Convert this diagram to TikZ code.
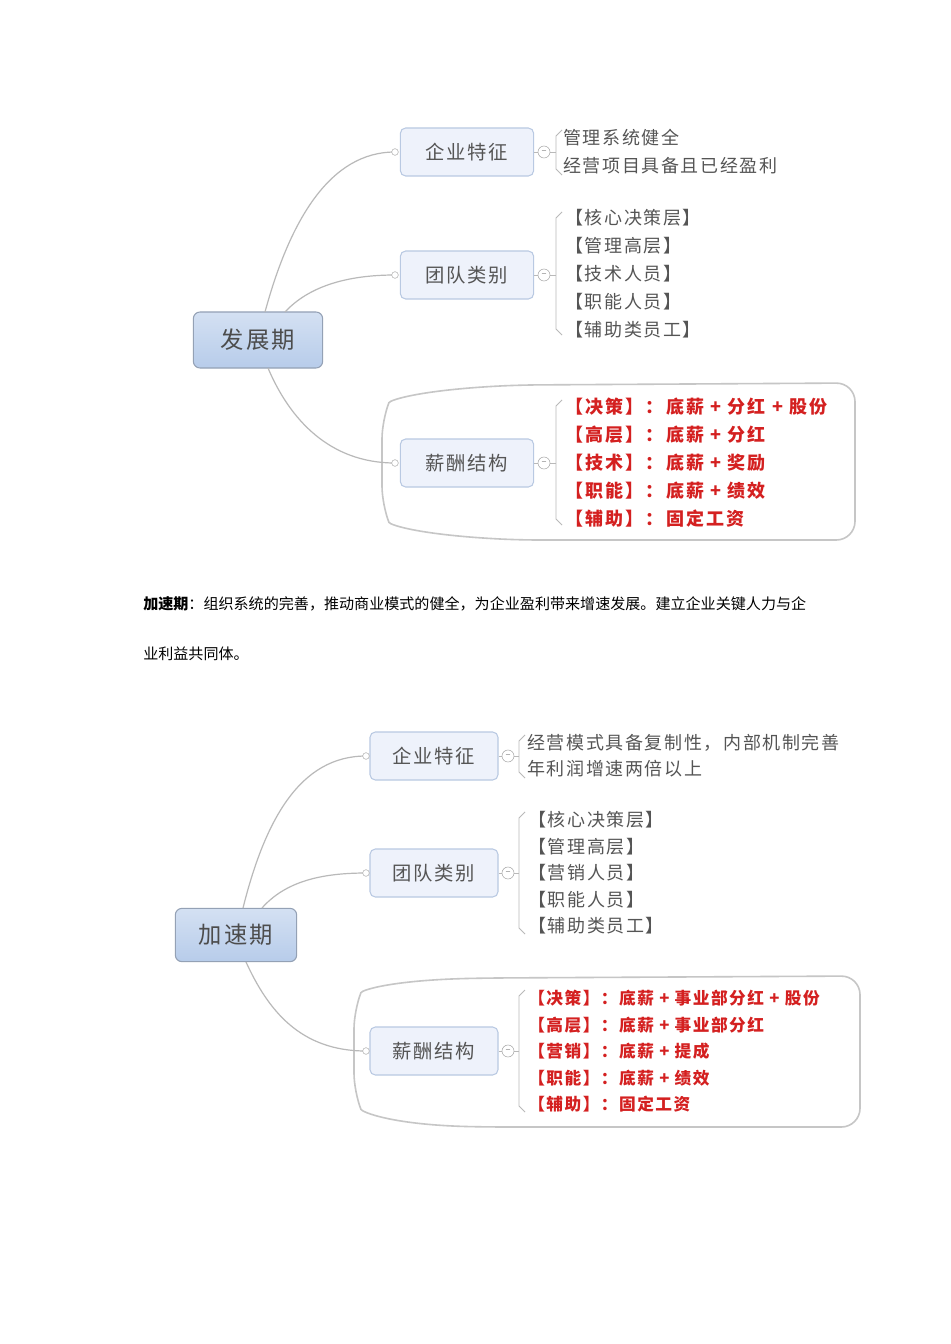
\documentclass[tikz,border=0pt]{standalone}
\usepackage{fontspec}
\setmainfont{Noto Sans CJK SC}
\newfontfamily\myspa[LetterSpace=9]{Noto Sans CJK SC}
\newfontfamily\myspb[LetterSpace=12]{Noto Sans CJK SC}
\definecolor{tg}{HTML}{555555}
\definecolor{rd}{HTML}{D42020}
\definecolor{nb}{HTML}{B9C9E2}
\definecolor{nf}{HTML}{EEF2FB}
\definecolor{rf}{HTML}{B7CCEA}
\begin{document}
\begin{tikzpicture}[x=0.75pt,y=-0.75pt,
 sub/.style={draw=nb,fill=nf,rounded corners=4pt,minimum width=100pt,minimum height=36pt,font=\fontsize{14.5}{16}\myspa,text=tg,line width=0.8pt},
 root/.style={draw=nb!80!black,top color=rf!60,bottom color=rf,rounded corners=5pt,font=\fontsize{17.5}{19}\myspa,text=black!70,line width=0.8pt},
 txt/.style={anchor=west,font=\fontsize{13.5}{14}\myspa,text=tg,inner sep=0},
 red/.style={anchor=west,font=\fontsize{13.5}{14}\myspb\bfseries,text=rd,inner sep=0},
 redb/.style={anchor=west,font=\fontsize{12.5}{14}\myspa\bfseries,text=rd,inner sep=0},
 conn/.style={draw=gray!55,line width=0.9pt},
 dot/.style={circle,draw=gray!60,fill=white,inner sep=0,minimum size=5pt},
 mn/.style={circle,draw=gray!70,fill=white,inner sep=0,minimum size=9pt,font=\fontsize{7}{7}\selectfont,text=gray},
 frame/.style={draw=gray!45,line width=1.2pt,rounded corners=14pt}]
\useasboundingbox (0,0) rectangle (950,1344);
\fill[white] (0,0) rectangle (950,1344);
% ---------- top
\draw[frame] (382,420) .. controls (390,400) and (420,390) .. (520,385) -- (855,383) -- (855,540) -- (520,540) .. controls (420,535) and (390,525) .. (382,505) -- cycle;
\node[root,minimum width=97pt,minimum height=42pt] (r1) at (258,340) {发展期};
\node[sub,minimum width=100pt] (a1) at (467,152) {企业特征};
\node[sub,minimum width=100pt] (b1) at (467,275) {团队类别};
\node[sub,minimum width=100pt] (c1) at (467,463) {薪酬结构};
\coordinate (a1l) at (395,152);\coordinate (b1l) at (395,275);\coordinate (c1l) at (395,463);
\draw[conn] (265,312) .. controls (290,220) and (330,152) .. (a1l);
\draw[conn] (285,312) .. controls (310,285) and (350,275) .. (b1l);
\draw[conn] (268,368) .. controls (290,420) and (330,463) .. (c1l);
\foreach \n in {a1l,b1l,c1l} \node[dot] at (\n) {};
\foreach \n/\y/\t/\b in {a1/152/130/175,b1/275/212/335,c1/463/400/525}{
 \draw[conn,line width=0.6pt] (\n.east) -- (556,\y);
 \draw[conn,line width=0.6pt] (562,\t) -- (556,\t+6) -- (556,\b-6) -- (562,\b);
 \node[mn] at (544,\y) {--};}
\node[txt] (t1) at (563,138) {管理系统健全};
\node[txt] (t2) at (563,166) {经营项目具备且已经盈利};
\node[txt] at (565,218) {【核心决策层】};
\node[txt] at (565,246) {【管理高层】};
\node[txt] at (565,274) {【技术人员】};
\node[txt] at (565,302) {【职能人员】};
\node[txt] at (565,330) {【辅助类员工】};
\node[red] at (565,407) {【决策】：底薪 + 分红 + 股份};
\node[red] at (565,435) {【高层】：底薪 + 分红};
\node[red] at (565,463) {【技术】：底薪 + 奖励};
\node[red] at (565,491) {【职能】：底薪 + 绩效};
\node[red] at (565,519) {【辅助】：固定工资};
% ---------- paragraph
\node[anchor=west,inner sep=0,font=\fontsize{11.3}{12}\selectfont] (p1) at (143,604) {\textbf{加速期}：组织系统的完善，推动商业模式的健全，为企业盈利带来增速发展。建立企业关键人力与企};
\node[anchor=west,inner sep=0,font=\fontsize{11.3}{12}\selectfont] (p2) at (143,654) {业利益共同体。};
% ---------- bottom
\draw[frame] (354,1010) .. controls (362,990) and (392,980) .. (490,978) -- (860,976) -- (860,1127) -- (490,1127) .. controls (392,1125) and (362,1112) .. (354,1092) -- cycle;
\node[root,minimum width=91pt,minimum height=40pt] (r2) at (236,935) {加速期};
\node[sub,minimum width=96pt] (a2) at (434,756) {企业特征};
\node[sub,minimum width=96pt] (b2) at (434,873) {团队类别};
\node[sub,minimum width=96pt] (c2) at (434,1051) {薪酬结构};
\coordinate (a2l) at (366,756);\coordinate (b2l) at (366,873);\coordinate (c2l) at (366,1051);
\draw[conn] (243,908) .. controls (265,820) and (300,756) .. (a2l);
\draw[conn] (262,908) .. controls (285,882) and (320,873) .. (b2l);
\draw[conn] (246,962) .. controls (268,1010) and (300,1051) .. (c2l);
\foreach \n in {a2l,b2l,c2l} \node[dot] at (\n) {};
\foreach \n/\y/\t/\b in {a2/756/735/778,b2/873/812/934,c2/1051/990/1112}{
 \draw[conn,line width=0.6pt] (\n.east) -- (519,\y);
 \draw[conn,line width=0.6pt] (525,\t) -- (519,\t+6) -- (519,\b-6) -- (525,\b);
 \node[mn] at (508,\y) {--};}
\node[txt] at (527,743) {经营模式具备复制性，内部机制完善};
\node[txt] at (527,769) {年利润增速两倍以上};
\node[txt] at (528,820) {【核心决策层】};
\node[txt] at (528,847) {【管理高层】};
\node[txt] at (528,873) {【营销人员】};
\node[txt] at (528,900) {【职能人员】};
\node[txt] at (528,926) {【辅助类员工】};
\node[redb] at (528,998) {【决策】：底薪 + 事业部分红 + 股份};
\node[redb] at (528,1025) {【高层】：底薪 + 事业部分红};
\node[redb] at (528,1051) {【营销】：底薪 + 提成};
\node[redb] at (528,1078) {【职能】：底薪 + 绩效};
\node[redb] at (528,1104) {【辅助】：固定工资};
\end{tikzpicture}
\end{document}
